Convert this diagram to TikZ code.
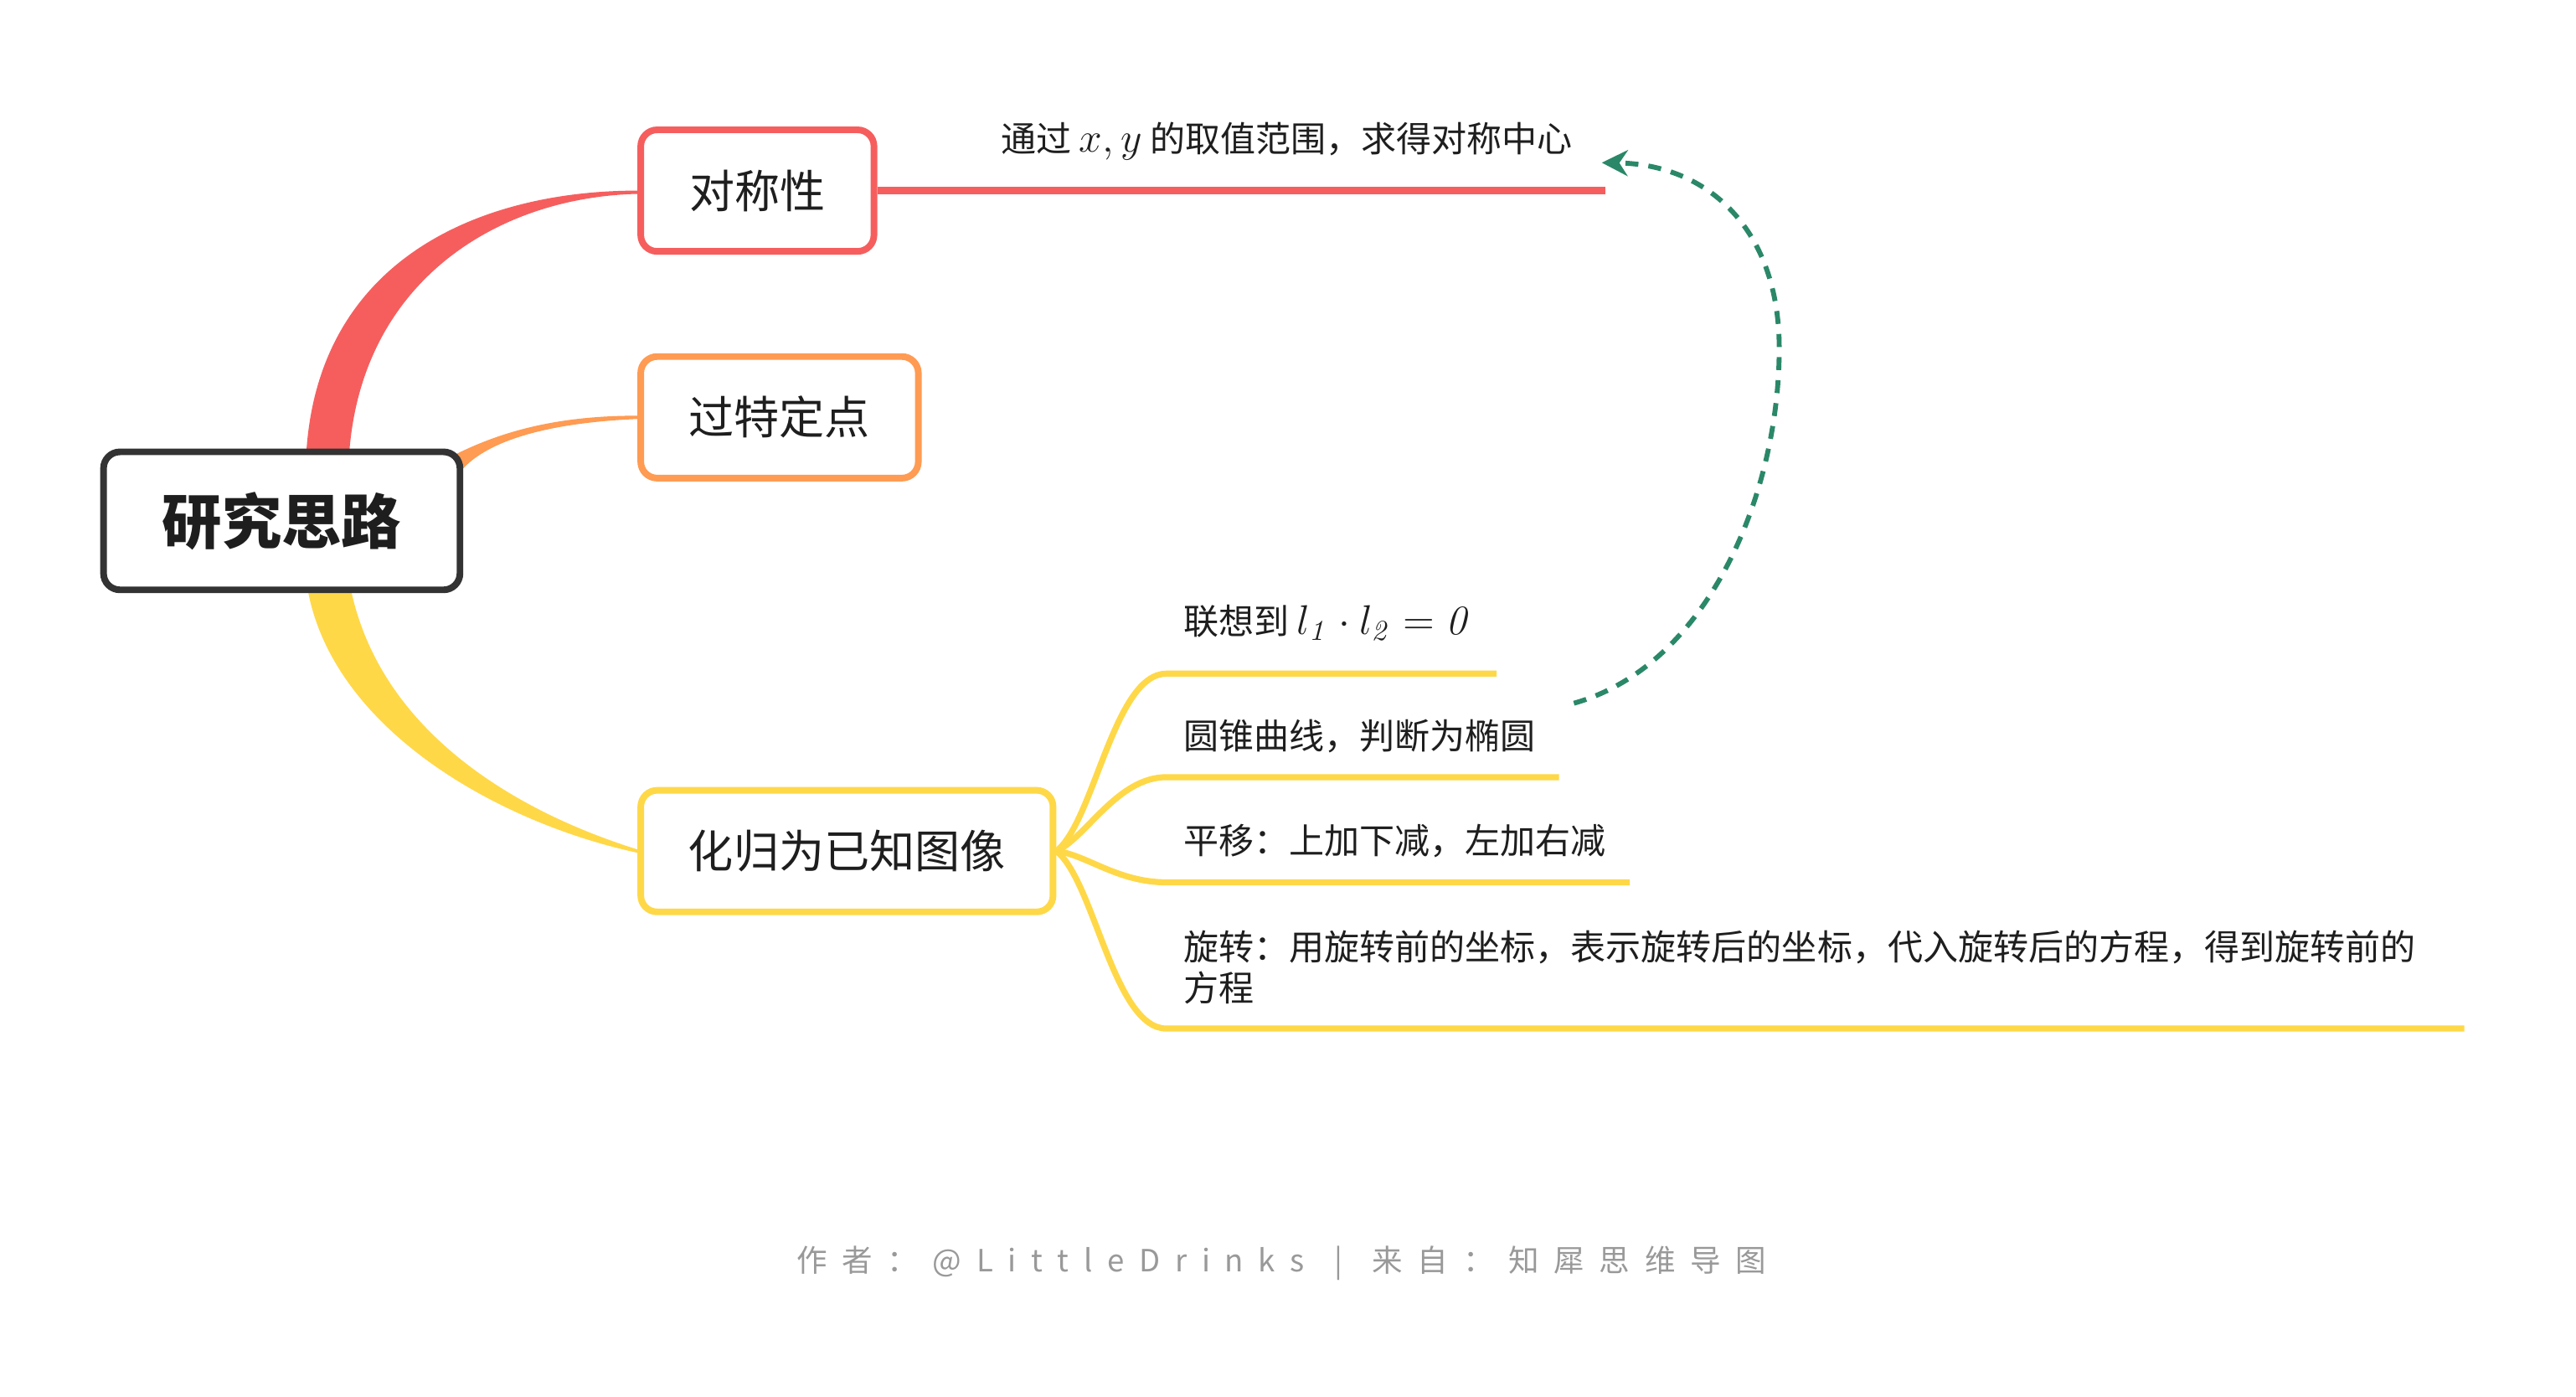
\documentclass[tikz,border=0pt]{standalone}
\usepackage[no-math]{fontspec}
\setmainfont{Noto Sans CJK SC}
\usetikzlibrary{arrows.meta,backgrounds,calc}
\definecolor{cred}{RGB}{246,94,94}
\definecolor{corange}{RGB}{255,155,82}
\definecolor{cyellow}{RGB}{255,216,72}
\definecolor{cdark}{RGB}{51,51,51}
\definecolor{cgreen}{RGB}{42,136,104}
\definecolor{cgray}{RGB}{153,153,153}
\definecolor{ctext}{RGB}{30,30,30}
\newcommand\mth[1]{{\fontsize{14}{16}\selectfont$#1$}}
\newcommand\gp{\hspace{0.485em}}
\begin{document}
\begin{tikzpicture}[x=0.02cm,y=-0.02cm]
\tikzset{
 topic/.style={draw, line width=2.3pt, rounded corners=0.2cm, fill=white, inner sep=0pt, text=ctext, font=\fontsize{15.7}{18}\selectfont},
 sub/.style={anchor=west, inner sep=0pt, text=ctext, font=\fontsize{12.2}{14.2}\selectfont},
 ybranch/.style={draw=cyellow, line width=2.1pt, line cap=butt},
}
\useasboundingbox (0,0) rectangle (1568,850);

% main topics
\node[topic, draw=cdark, minimum width=4.34cm, minimum height=1.68cm, font=\fontsize{20.7}{24}\selectfont\bfseries] (root) at (171.5,317) {研究思路};
\node[topic, draw=cred, minimum width=2.84cm, minimum height=1.48cm] (b1) at (461,116) {对称性};
\node[topic, draw=corange, minimum width=3.38cm, minimum height=1.48cm] (b2) at (474.5,254) {过特定点};
\node[topic, draw=cyellow, minimum width=5.02cm, minimum height=1.48cm] (b3) at (515.5,518) {化归为已知图像};

% sub topics
\node[sub] (t0) at (609,86) {通过 \mth{x,y} 的取值范围，求得对称中心};
\node[sub] (s1) at (720,379) {联想到 \mth{l_{\mathit{1}}\cdot l_{\mathit{2}}=\mathit{0}}};
\node[sub] (s2) at (720,448) {圆锥曲线，判断为椭圆};
\node[sub] (s3) at (720,512) {平移：上加下减，左加右减};
\node[sub, align=left] (s4) at (720,588.5) {旋转：用旋转前的坐标，表示旋转后的坐标，代入旋转后的方程，得到旋转前的\\方程};

% coordinates of line ends
\coordinate (e0) at (977,116);
\coordinate (c1) at (710,410); \coordinate (l1) at (911,410);
\coordinate (c2) at (710,473); \coordinate (l2) at (949,473);
\coordinate (c3) at (710,537); \coordinate (l3) at (992,537);
\coordinate (c4) at (710,626); \coordinate (l4) at (1500,626);
\coordinate (g0) at (958,428); \coordinate (g1) at (975,99);

\begin{pgfonlayer}{background}
\fill[white] (0,0) rectangle (1568,850);
% tapered root branches
\fill[cred] (186,290) .. controls (186,160) and (290,116) .. (b1.west) -- ($(b1.west)+(0,2)$) .. controls (300,120) and (213,175) .. (212,290) -- cycle;
\fill[corange] (262,285) .. controls (300,262) and (340,253) .. ($(b2.west)+(0,-1)$) -- ($(b2.west)+(0,1)$) .. controls (340,257) and (300,266) .. (282,285) -- cycle;
\fill[cyellow] (186,350) .. controls (196,440) and (300,500) .. ($(b3.west)+(0,1)$) -- ($(b3.west)+(0,-1)$) .. controls (308,492) and (226,440) .. (212,350) -- cycle;
% branch lines
\draw[cred, line width=2.6pt] (b1.east) -- (e0);
\draw[ybranch] (b3.east) .. controls +(23,-18) and +(-32,0) .. (c1) -- (l1);
\draw[ybranch] (b3.east) .. controls +(18,-8) and +(-30,0) .. (c2) -- (l2);
\draw[ybranch] (b3.east) .. controls +(18,2) and +(-30,0) .. (c3) -- (l3);
\draw[ybranch] (b3.east) .. controls +(23,18) and +(-32,0) .. (c4) -- (l4);
\end{pgfonlayer}

% relationship arrow
\draw[cgreen, line width=1.7pt, dash pattern=on 4.5pt off 3.5pt, -{Stealth[length=9pt,width=9pt]}] (g0) .. controls (1040,405) and (1083,300) .. (1083,212) .. controls (1083,140) and (1040,100) .. (g1);

% footer
\node[text=cgray, font=\fontsize{10.6}{12}\selectfont, inner sep=0pt] (ft) at (780,769) {作\gp 者\gp ：\gp @\gp L\gp i\gp t\gp t\gp l\gp e\gp D\gp r\gp i\gp n\gp k\gp s\gp\gp |\gp\gp 来\gp 自\gp ：\gp 知\gp 犀\gp 思\gp 维\gp 导\gp 图};
\end{tikzpicture}
\end{document}
